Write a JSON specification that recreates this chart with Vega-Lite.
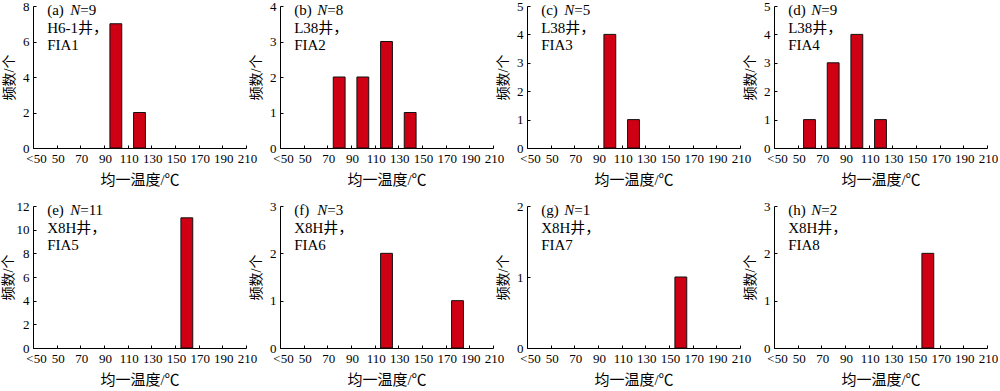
{
  "$schema": "https://vega.github.io/schema/vega-lite/v6.json",
  "padding": {"left": 1, "top": 0, "right": 0, "bottom": 0},
  "columns": 4,
  "bounds": "flush",
  "spacing": {"row": 58, "column": 34},
  "datasets": {
    "bars": [
      {"panel": "a", "lo": 95, "hi": 105, "count": 7},
      {"panel": "a", "lo": 115, "hi": 125, "count": 2},
      {"panel": "b", "lo": 75, "hi": 85, "count": 2},
      {"panel": "b", "lo": 95, "hi": 105, "count": 2},
      {"panel": "b", "lo": 115, "hi": 125, "count": 3},
      {"panel": "b", "lo": 135, "hi": 145, "count": 1},
      {"panel": "c", "lo": 95, "hi": 105, "count": 4},
      {"panel": "c", "lo": 115, "hi": 125, "count": 1},
      {"panel": "d", "lo": 55, "hi": 65, "count": 1},
      {"panel": "d", "lo": 75, "hi": 85, "count": 3},
      {"panel": "d", "lo": 95, "hi": 105, "count": 4},
      {"panel": "d", "lo": 115, "hi": 125, "count": 1},
      {"panel": "e", "lo": 155, "hi": 165, "count": 11},
      {"panel": "f", "lo": 115, "hi": 125, "count": 2},
      {"panel": "f", "lo": 175, "hi": 185, "count": 1},
      {"panel": "g", "lo": 155, "hi": 165, "count": 1},
      {"panel": "h", "lo": 155, "hi": 165, "count": 2}
    ],
    "labels": [
      {"panel": "a", "lines": ["(a)", "H6-1井，", "FIA1"], "n": "=9"},
      {"panel": "b", "lines": ["(b)", "L38井，", "FIA2"], "n": "=8"},
      {"panel": "c", "lines": ["(c)", "L38井，", "FIA3"], "n": "=5"},
      {"panel": "d", "lines": ["(d)", "L38井，", "FIA4"], "n": "=9"},
      {"panel": "e", "lines": ["(e)", "X8H井，", "FIA5"], "n": "=11"},
      {"panel": "f", "lines": ["(f)", "X8H井，", "FIA6"], "n": "=3"},
      {"panel": "g", "lines": ["(g)", "X8H井，", "FIA7"], "n": "=1"},
      {"panel": "h", "lines": ["(h)", "X8H井，", "FIA8"], "n": "=2"}
    ]
  },
  "config": {
    "font": "Liberation Serif, Noto Sans CJK SC",
    "view": {"stroke": null},
    "axis": {
      "grid": false,
      "domainColor": "#000",
      "domainWidth": 1,
      "tickColor": "#000",
      "tickSize": -3,
      "labelFont": "Liberation Serif, Noto Sans CJK SC",
      "labelFontSize": 13,
      "labelColor": "#000",
      "labelFlush": false,
      "labelBound": false,
      "labelPadding": 7,
      "titleFont": "Liberation Serif, Noto Sans CJK SC",
      "titleFontSize": 14,
      "titleFontWeight": "normal",
      "titleColor": "#000"
    },
    "axisX": {"titlePadding": 7, "titleFontSize": 15},
    "axisY": {"titlePadding": 6},
    "bar": {"fill": "#d00014", "stroke": "#111", "strokeWidth": 1},
    "style": {
      "lbl": {"align": "left", "baseline": "top", "fontSize": 15, "lineHeight": 17.5, "dy": -3, "fill": "#000"},
      "nItal": {"align": "left", "baseline": "top", "fontSize": 15, "fontStyle": "italic", "dx": 23, "dy": -3, "fill": "#000"},
      "nVal": {"align": "left", "baseline": "top", "fontSize": 15, "dx": 33, "dy": -3, "fill": "#000"}
    }
  },
  "concat": [
    {
      "width": 213, "height": 142,
      "layer": [
        {"data": {"name": "bars"}, "transform": [{"filter": "datum.panel==='a'"}], "mark": "bar",
         "encoding": {
           "x": {"field": "lo", "type": "quantitative", "scale": {"domain": [30, 210], "nice": false}, "axis": {"values": [30, 50, 70, 90, 110, 130, 150, 170, 190, 210], "tickCount": 20, "labelOverlap": false, "labelOffset": {"condition": {"test": "datum.value==30", "value": 3}, "value": 1}, "labelExpr": "datum.value==30?'<50':datum.label", "title": "均一温度/℃"}},
           "x2": {"field": "hi"},
           "y": {"field": "count", "type": "quantitative", "scale": {"domain": [0, 8], "nice": false}, "axis": {"values": [0, 2, 4, 6, 8], "tickCount": 20, "labelOverlap": false, "labelExpr": "''+datum.value", "title": "频数/个"}},
           "y2": {"datum": 0}}},
        {"data": {"name": "labels"}, "transform": [{"filter": "datum.panel==='a'"}], "mark": {"type": "text", "style": "lbl"},
         "encoding": {"x": {"datum": 42, "type": "quantitative"}, "y": {"datum": 8, "type": "quantitative"}, "text": {"field": "lines"}}},
        {"data": {"name": "labels"}, "transform": [{"filter": "datum.panel==='a'"}], "mark": {"type": "text", "style": "nItal"},
         "encoding": {"x": {"datum": 42, "type": "quantitative"}, "y": {"datum": 8, "type": "quantitative"}, "text": {"value": "N"}}},
        {"data": {"name": "labels"}, "transform": [{"filter": "datum.panel==='a'"}], "mark": {"type": "text", "style": "nVal"},
         "encoding": {"x": {"datum": 42, "type": "quantitative"}, "y": {"datum": 8, "type": "quantitative"}, "text": {"field": "n"}}}
      ]
    },
    {
      "width": 213, "height": 142,
      "layer": [
        {"data": {"name": "bars"}, "transform": [{"filter": "datum.panel==='b'"}], "mark": "bar",
         "encoding": {
           "x": {"field": "lo", "type": "quantitative", "scale": {"domain": [30, 210], "nice": false}, "axis": {"values": [30, 50, 70, 90, 110, 130, 150, 170, 190, 210], "tickCount": 20, "labelOverlap": false, "labelOffset": {"condition": {"test": "datum.value==30", "value": 3}, "value": 1}, "labelExpr": "datum.value==30?'<50':datum.label", "title": "均一温度/℃"}},
           "x2": {"field": "hi"},
           "y": {"field": "count", "type": "quantitative", "scale": {"domain": [0, 4], "nice": false}, "axis": {"values": [0, 1, 2, 3, 4], "tickCount": 20, "labelOverlap": false, "labelExpr": "''+datum.value", "title": "频数/个"}},
           "y2": {"datum": 0}}},
        {"data": {"name": "labels"}, "transform": [{"filter": "datum.panel==='b'"}], "mark": {"type": "text", "style": "lbl"},
         "encoding": {"x": {"datum": 42, "type": "quantitative"}, "y": {"datum": 4, "type": "quantitative"}, "text": {"field": "lines"}}},
        {"data": {"name": "labels"}, "transform": [{"filter": "datum.panel==='b'"}], "mark": {"type": "text", "style": "nItal"},
         "encoding": {"x": {"datum": 42, "type": "quantitative"}, "y": {"datum": 4, "type": "quantitative"}, "text": {"value": "N"}}},
        {"data": {"name": "labels"}, "transform": [{"filter": "datum.panel==='b'"}], "mark": {"type": "text", "style": "nVal"},
         "encoding": {"x": {"datum": 42, "type": "quantitative"}, "y": {"datum": 4, "type": "quantitative"}, "text": {"field": "n"}}}
      ]
    },
    {
      "width": 213, "height": 142,
      "layer": [
        {"data": {"name": "bars"}, "transform": [{"filter": "datum.panel==='c'"}], "mark": "bar",
         "encoding": {
           "x": {"field": "lo", "type": "quantitative", "scale": {"domain": [30, 210], "nice": false}, "axis": {"values": [30, 50, 70, 90, 110, 130, 150, 170, 190, 210], "tickCount": 20, "labelOverlap": false, "labelOffset": {"condition": {"test": "datum.value==30", "value": 3}, "value": 1}, "labelExpr": "datum.value==30?'<50':datum.label", "title": "均一温度/℃"}},
           "x2": {"field": "hi"},
           "y": {"field": "count", "type": "quantitative", "scale": {"domain": [0, 5], "nice": false}, "axis": {"values": [0, 1, 2, 3, 4, 5], "tickCount": 20, "labelOverlap": false, "labelExpr": "''+datum.value", "title": "频数/个"}},
           "y2": {"datum": 0}}},
        {"data": {"name": "labels"}, "transform": [{"filter": "datum.panel==='c'"}], "mark": {"type": "text", "style": "lbl"},
         "encoding": {"x": {"datum": 42, "type": "quantitative"}, "y": {"datum": 5, "type": "quantitative"}, "text": {"field": "lines"}}},
        {"data": {"name": "labels"}, "transform": [{"filter": "datum.panel==='c'"}], "mark": {"type": "text", "style": "nItal"},
         "encoding": {"x": {"datum": 42, "type": "quantitative"}, "y": {"datum": 5, "type": "quantitative"}, "text": {"value": "N"}}},
        {"data": {"name": "labels"}, "transform": [{"filter": "datum.panel==='c'"}], "mark": {"type": "text", "style": "nVal"},
         "encoding": {"x": {"datum": 42, "type": "quantitative"}, "y": {"datum": 5, "type": "quantitative"}, "text": {"field": "n"}}}
      ]
    },
    {
      "width": 213, "height": 142,
      "layer": [
        {"data": {"name": "bars"}, "transform": [{"filter": "datum.panel==='d'"}], "mark": "bar",
         "encoding": {
           "x": {"field": "lo", "type": "quantitative", "scale": {"domain": [30, 210], "nice": false}, "axis": {"values": [30, 50, 70, 90, 110, 130, 150, 170, 190, 210], "tickCount": 20, "labelOverlap": false, "labelOffset": {"condition": {"test": "datum.value==30", "value": 3}, "value": 1}, "labelExpr": "datum.value==30?'<50':datum.label", "title": "均一温度/℃"}},
           "x2": {"field": "hi"},
           "y": {"field": "count", "type": "quantitative", "scale": {"domain": [0, 5], "nice": false}, "axis": {"values": [0, 1, 2, 3, 4, 5], "tickCount": 20, "labelOverlap": false, "labelExpr": "''+datum.value", "title": "频数/个"}},
           "y2": {"datum": 0}}},
        {"data": {"name": "labels"}, "transform": [{"filter": "datum.panel==='d'"}], "mark": {"type": "text", "style": "lbl"},
         "encoding": {"x": {"datum": 42, "type": "quantitative"}, "y": {"datum": 5, "type": "quantitative"}, "text": {"field": "lines"}}},
        {"data": {"name": "labels"}, "transform": [{"filter": "datum.panel==='d'"}], "mark": {"type": "text", "style": "nItal"},
         "encoding": {"x": {"datum": 42, "type": "quantitative"}, "y": {"datum": 5, "type": "quantitative"}, "text": {"value": "N"}}},
        {"data": {"name": "labels"}, "transform": [{"filter": "datum.panel==='d'"}], "mark": {"type": "text", "style": "nVal"},
         "encoding": {"x": {"datum": 42, "type": "quantitative"}, "y": {"datum": 5, "type": "quantitative"}, "text": {"field": "n"}}}
      ]
    },
    {
      "width": 213, "height": 142,
      "layer": [
        {"data": {"name": "bars"}, "transform": [{"filter": "datum.panel==='e'"}], "mark": "bar",
         "encoding": {
           "x": {"field": "lo", "type": "quantitative", "scale": {"domain": [30, 210], "nice": false}, "axis": {"values": [30, 50, 70, 90, 110, 130, 150, 170, 190, 210], "tickCount": 20, "labelOverlap": false, "labelOffset": {"condition": {"test": "datum.value==30", "value": 3}, "value": 1}, "labelExpr": "datum.value==30?'<50':datum.label", "title": "均一温度/℃"}},
           "x2": {"field": "hi"},
           "y": {"field": "count", "type": "quantitative", "scale": {"domain": [0, 12], "nice": false}, "axis": {"values": [0, 2, 4, 6, 8, 10, 12], "tickCount": 20, "labelOverlap": false, "labelExpr": "''+datum.value", "titlePadding": 1, "title": "频数/个"}},
           "y2": {"datum": 0}}},
        {"data": {"name": "labels"}, "transform": [{"filter": "datum.panel==='e'"}], "mark": {"type": "text", "style": "lbl"},
         "encoding": {"x": {"datum": 42, "type": "quantitative"}, "y": {"datum": 12, "type": "quantitative"}, "text": {"field": "lines"}}},
        {"data": {"name": "labels"}, "transform": [{"filter": "datum.panel==='e'"}], "mark": {"type": "text", "style": "nItal"},
         "encoding": {"x": {"datum": 42, "type": "quantitative"}, "y": {"datum": 12, "type": "quantitative"}, "text": {"value": "N"}}},
        {"data": {"name": "labels"}, "transform": [{"filter": "datum.panel==='e'"}], "mark": {"type": "text", "style": "nVal"},
         "encoding": {"x": {"datum": 42, "type": "quantitative"}, "y": {"datum": 12, "type": "quantitative"}, "text": {"field": "n"}}}
      ]
    },
    {
      "width": 213, "height": 142,
      "layer": [
        {"data": {"name": "bars"}, "transform": [{"filter": "datum.panel==='f'"}], "mark": "bar",
         "encoding": {
           "x": {"field": "lo", "type": "quantitative", "scale": {"domain": [30, 210], "nice": false}, "axis": {"values": [30, 50, 70, 90, 110, 130, 150, 170, 190, 210], "tickCount": 20, "labelOverlap": false, "labelOffset": {"condition": {"test": "datum.value==30", "value": 3}, "value": 1}, "labelExpr": "datum.value==30?'<50':datum.label", "title": "均一温度/℃"}},
           "x2": {"field": "hi"},
           "y": {"field": "count", "type": "quantitative", "scale": {"domain": [0, 3], "nice": false}, "axis": {"values": [0, 1, 2, 3], "tickCount": 20, "labelOverlap": false, "labelExpr": "''+datum.value", "title": "频数/个"}},
           "y2": {"datum": 0}}},
        {"data": {"name": "labels"}, "transform": [{"filter": "datum.panel==='f'"}], "mark": {"type": "text", "style": "lbl"},
         "encoding": {"x": {"datum": 42, "type": "quantitative"}, "y": {"datum": 3, "type": "quantitative"}, "text": {"field": "lines"}}},
        {"data": {"name": "labels"}, "transform": [{"filter": "datum.panel==='f'"}], "mark": {"type": "text", "style": "nItal"},
         "encoding": {"x": {"datum": 42, "type": "quantitative"}, "y": {"datum": 3, "type": "quantitative"}, "text": {"value": "N"}}},
        {"data": {"name": "labels"}, "transform": [{"filter": "datum.panel==='f'"}], "mark": {"type": "text", "style": "nVal"},
         "encoding": {"x": {"datum": 42, "type": "quantitative"}, "y": {"datum": 3, "type": "quantitative"}, "text": {"field": "n"}}}
      ]
    },
    {
      "width": 213, "height": 142,
      "layer": [
        {"data": {"name": "bars"}, "transform": [{"filter": "datum.panel==='g'"}], "mark": "bar",
         "encoding": {
           "x": {"field": "lo", "type": "quantitative", "scale": {"domain": [30, 210], "nice": false}, "axis": {"values": [30, 50, 70, 90, 110, 130, 150, 170, 190, 210], "tickCount": 20, "labelOverlap": false, "labelOffset": {"condition": {"test": "datum.value==30", "value": 3}, "value": 1}, "labelExpr": "datum.value==30?'<50':datum.label", "title": "均一温度/℃"}},
           "x2": {"field": "hi"},
           "y": {"field": "count", "type": "quantitative", "scale": {"domain": [0, 2], "nice": false}, "axis": {"values": [0, 1, 2], "tickCount": 20, "labelOverlap": false, "labelExpr": "''+datum.value", "title": "频数/个"}},
           "y2": {"datum": 0}}},
        {"data": {"name": "labels"}, "transform": [{"filter": "datum.panel==='g'"}], "mark": {"type": "text", "style": "lbl"},
         "encoding": {"x": {"datum": 42, "type": "quantitative"}, "y": {"datum": 2, "type": "quantitative"}, "text": {"field": "lines"}}},
        {"data": {"name": "labels"}, "transform": [{"filter": "datum.panel==='g'"}], "mark": {"type": "text", "style": "nItal"},
         "encoding": {"x": {"datum": 42, "type": "quantitative"}, "y": {"datum": 2, "type": "quantitative"}, "text": {"value": "N"}}},
        {"data": {"name": "labels"}, "transform": [{"filter": "datum.panel==='g'"}], "mark": {"type": "text", "style": "nVal"},
         "encoding": {"x": {"datum": 42, "type": "quantitative"}, "y": {"datum": 2, "type": "quantitative"}, "text": {"field": "n"}}}
      ]
    },
    {
      "width": 213, "height": 142,
      "layer": [
        {"data": {"name": "bars"}, "transform": [{"filter": "datum.panel==='h'"}], "mark": "bar",
         "encoding": {
           "x": {"field": "lo", "type": "quantitative", "scale": {"domain": [30, 210], "nice": false}, "axis": {"values": [30, 50, 70, 90, 110, 130, 150, 170, 190, 210], "tickCount": 20, "labelOverlap": false, "labelOffset": {"condition": {"test": "datum.value==30", "value": 3}, "value": 1}, "labelExpr": "datum.value==30?'<50':datum.label", "title": "均一温度/℃"}},
           "x2": {"field": "hi"},
           "y": {"field": "count", "type": "quantitative", "scale": {"domain": [0, 3], "nice": false}, "axis": {"values": [0, 1, 2, 3], "tickCount": 20, "labelOverlap": false, "labelExpr": "''+datum.value", "title": "频数/个"}},
           "y2": {"datum": 0}}},
        {"data": {"name": "labels"}, "transform": [{"filter": "datum.panel==='h'"}], "mark": {"type": "text", "style": "lbl"},
         "encoding": {"x": {"datum": 42, "type": "quantitative"}, "y": {"datum": 3, "type": "quantitative"}, "text": {"field": "lines"}}},
        {"data": {"name": "labels"}, "transform": [{"filter": "datum.panel==='h'"}], "mark": {"type": "text", "style": "nItal"},
         "encoding": {"x": {"datum": 42, "type": "quantitative"}, "y": {"datum": 3, "type": "quantitative"}, "text": {"value": "N"}}},
        {"data": {"name": "labels"}, "transform": [{"filter": "datum.panel==='h'"}], "mark": {"type": "text", "style": "nVal"},
         "encoding": {"x": {"datum": 42, "type": "quantitative"}, "y": {"datum": 3, "type": "quantitative"}, "text": {"field": "n"}}}
      ]
    }
  ]
}
